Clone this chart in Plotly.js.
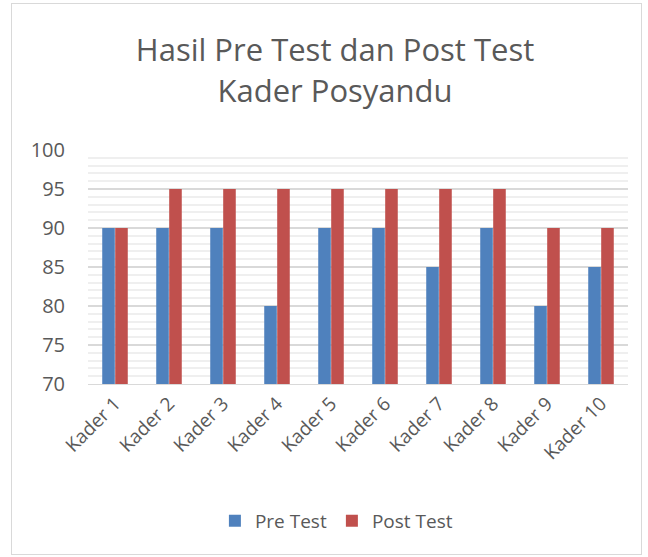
<!DOCTYPE html>
<html><head><meta charset="utf-8">
<script src="https://cdn.plot.ly/plotly-3.0.1.min.js"></script>
<style>body{margin:0;background:#fff}#c{width:648px;height:557px}
#frame{position:absolute;left:11px;top:3px;width:629px;height:550px;border:1px solid #d9d9d9;pointer-events:none}</style>
</head><body><div id="c"></div><div id="frame"></div>
<script>
const categories = ["Kader 1","Kader 2","Kader 3","Kader 4","Kader 5","Kader 6","Kader 7","Kader 8","Kader 9","Kader 10"];
const preTest = [90,90,90,80,90,90,85,90,80,85];
const postTest = [90,95,95,95,95,95,95,95,90,90];
const font = "Open Sans, Liberation Sans, sans-serif";
const data = [
 {type:"bar", name:"Pre Test", x:categories, y:preTest, marker:{color:"#4f81bd"}},
 {type:"bar", name:"Post Test", x:categories, y:postTest, marker:{color:"#c0504d"}}
];
const layout = {
 width:648, height:557,
 margin:{l:88,r:20,t:150,b:173},
 paper_bgcolor:"#fff", plot_bgcolor:"#fff",
 font:{family:font, color:"#595959"},
 title:{text:"Hasil Pre Test dan Post Test<br>Kader Posyandu", font:{size:31, color:"#595959", family:font}, x:0.517, xanchor:"center", y:0.89, yanchor:"top"},
 barmode:"group", bargap:0.52, bargroupgap:0.03,
 xaxis:{tickangle:-45, tickfont:{size:19}, showline:true, linecolor:"#d9d9d9", linewidth:1, ticks:"", automargin:false},
 yaxis:{range:[70,100], tick0:70, dtick:5, tickfont:{size:20}, showgrid:true, gridcolor:"#d9d9d9", gridwidth:2,
   minor:{dtick:1, showgrid:true, gridcolor:"#efefef", gridwidth:2}, zeroline:false, ticks:"", ticklabelstandoff:22, automargin:false},
 showlegend:true,
 legend:{orientation:"h", x:0.46, xanchor:"center", y:-0.585, yanchor:"middle", font:{size:19}, itemwidth:30}
};
Plotly.newPlot("c", data, layout, {staticPlot:true});
</script></body></html>
